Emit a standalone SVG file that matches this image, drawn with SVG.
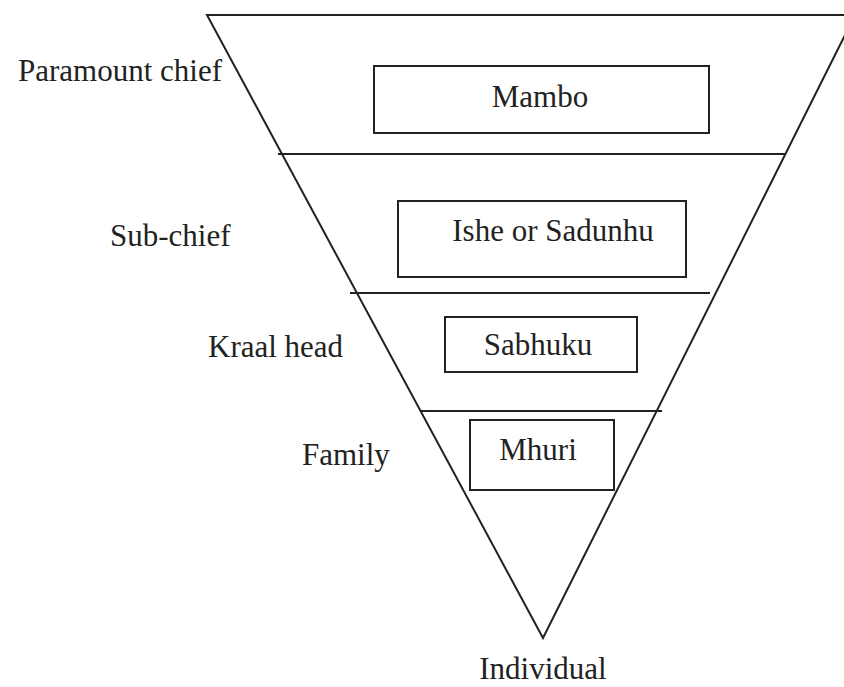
<svg xmlns="http://www.w3.org/2000/svg" width="844" height="687" viewBox="0 0 844 687">
<style>
.ln{stroke:#222;stroke-width:2;fill:none}
.bx{stroke:#222;stroke-width:2;fill:none}
.t{font-family:"Liberation Serif","Times New Roman",serif;font-size:31px;fill:#222}
.m{text-anchor:middle}
</style>
<rect width="844" height="687" fill="#fff"/>
<g id="connectors">
<polyline class="ln" points="855,15 207,15 543,638 855,15"/>
<line class="ln" x1="278" y1="154" x2="785" y2="154"/>
<line class="ln" x1="350" y1="293" x2="710" y2="293"/>
<line class="ln" x1="420" y1="411" x2="662" y2="411"/>
</g>
<g id="mambo">
<rect class="bx" x="374" y="66" width="335" height="67"/>
<text class="t m" x="540" y="107">Mambo</text>
</g>
<g id="ishe">
<rect class="bx" x="398" y="201" width="288" height="76"/>
<text class="t m" x="553" y="241">Ishe or Sadunhu</text>
</g>
<g id="sabhuku">
<rect class="bx" x="445" y="317" width="192" height="55"/>
<text class="t m" x="538" y="355">Sabhuku</text>
</g>
<g id="mhuri">
<rect class="bx" x="470" y="420" width="144" height="70"/>
<text class="t m" x="538" y="460">Mhuri</text>
</g>
<g id="labels">
<text class="t" x="222" y="81" text-anchor="end">Paramount chief</text>
<text class="t" x="110" y="246">Sub-chief</text>
<text class="t" x="208" y="357">Kraal head</text>
<text class="t" x="302" y="465">Family</text>
<text class="t m" x="543" y="679">Individual</text>
</g>
</svg>
